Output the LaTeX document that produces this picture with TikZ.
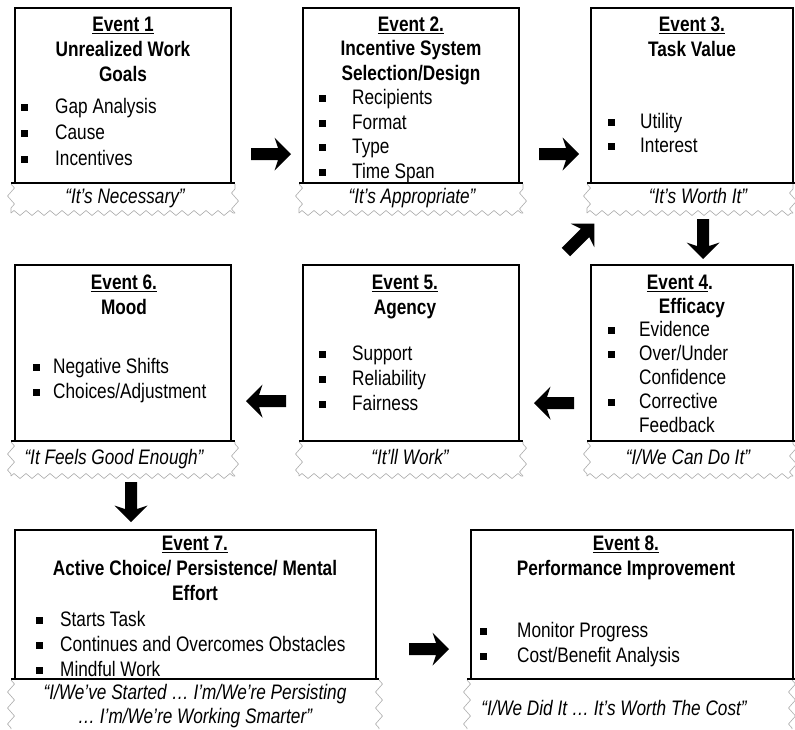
\documentclass[tikz,border=0pt]{standalone}
\usepackage{fontspec}
\setmainfont{Liberation Sans}[FakeStretch=0.82]
\usetikzlibrary{shapes.arrows,decorations.pathmorphing}
\newcommand\bsq{\rule[2.5pt]{7.2pt}{7.2pt}}
\newcommand\bit[2]{\makebox[#1][l]{\bsq}#2}
\tikzset{
  evbox/.style={draw, line width=2.2pt, inner sep=0pt, outer sep=0pt, anchor=north west},
  ebase/.style={line width=2.2pt},
  torn/.style={draw=gray!65, line width=0.6pt, decorate, decoration={zigzag, segment length=12pt, amplitude=2.5pt}},
  tornside/.style={draw=gray!65, line width=0.6pt, decorate, decoration={zigzag, segment length=16pt, amplitude=3.5pt}},
  headtxt/.style={font={\bfseries\fontsize{21}{#1}\selectfont}, align=center, inner sep=0pt, anchor=north},
  listtxt/.style={font={\fontsize{21}{#1}\selectfont}, align=left, inner sep=0pt, anchor=north west},
  quotetxt/.style={font={\itshape\fontsize{21}{#1}\selectfont}, align=center, inner sep=0pt, anchor=north},
  blockarrow/.style={single arrow, fill=black, draw=none, minimum height=40pt, inner xsep=0pt, inner ysep=5.8pt, single arrow head extend=10.5pt, single arrow head indent=3.5pt}
}
\begin{document}
\begin{tikzpicture}[x=1pt,y=-1pt]
\useasboundingbox[fill=white] (0,0) rectangle (795,729);

% ---------- boxes ----------
\node[evbox, minimum width=216pt, minimum height=175pt] (b1) at (15,8) {};
\node[evbox, minimum width=216pt, minimum height=175pt] (b2) at (303,8) {};
\node[evbox, minimum width=202pt, minimum height=175pt] (b3) at (591,8) {};
\node[evbox, minimum width=202pt, minimum height=176pt] (b4) at (591,265) {};
\node[evbox, minimum width=216pt, minimum height=176pt] (b5) at (303,265) {};
\node[evbox, minimum width=216pt, minimum height=176pt] (b6) at (15,265) {};
\node[evbox, minimum width=361pt, minimum height=149pt] (b7) at (15,530) {};
\node[evbox, minimum width=322pt, minimum height=149pt] (b8) at (471,530) {};

% ---------- torn banners ----------
\draw[tornside] (11,184) -- (11,213);
\draw[torn] (11,213) -- (235,213);
\draw[tornside] (235,213) -- (235,184);
\draw[ebase] (11,183) -- (235,183);

\draw[tornside] (299,184) -- (299,213);
\draw[torn] (299,213) -- (523,213);
\draw[tornside] (523,213) -- (523,184);
\draw[ebase] (299,183) -- (523,183);

\draw[tornside] (587,184) -- (587,213);
\draw[torn] (587,213) -- (793,213);
\draw[tornside] (793,213) -- (793,184);
\draw[ebase] (587,183) -- (795,183);

\draw[tornside] (587,442) -- (587,476);
\draw[torn] (587,476) -- (793,476);
\draw[tornside] (793,476) -- (793,442);
\draw[ebase] (587,441) -- (795,441);

\draw[tornside] (299,442) -- (299,476);
\draw[torn] (299,476) -- (523,476);
\draw[tornside] (523,476) -- (523,442);
\draw[ebase] (299,441) -- (523,441);

\draw[tornside] (11,442) -- (11,476);
\draw[torn] (11,476) -- (235,476);
\draw[tornside] (235,476) -- (235,442);
\draw[ebase] (11,441) -- (235,441);

\draw[tornside] (11,680) -- (11,729);
\draw[tornside] (379,680) -- (379,729);
\draw[ebase] (11,679) -- (379,679);

\draw[tornside] (467,680) -- (467,729);
\draw[tornside] (792,680) -- (792,729);
\draw[ebase] (467,679) -- (795,679);

% ---------- Event 1 ----------
\node[headtxt=25] (h1) at (123,13.5) {\strut\underline{Event 1}\\Unrealized Work\\Goals};
\node[listtxt=26] (l1) at (20.5,94.8) {\strut\bit{34.5pt}{Gap Analysis}\\\bit{34.5pt}{Cause}\\\bit{34.5pt}{Incentives}};
\node[quotetxt=25] (q1) at (125,185.5) {\strut “It’s Necessary”};

% ---------- Event 2 ----------
\node[headtxt=24.5] (h2) at (411,13.85) {\strut\underline{Event 2.}\\Incentive System\\Selection/Design};
\node[listtxt=24.5] (l2) at (318.5,87.35) {\strut\bit{33.5pt}{Recipients}\\\bit{33.5pt}{Format}\\\bit{33.5pt}{Type}\\\bit{33.5pt}{Time Span}};
\node[quotetxt=25] (q2) at (412,185.5) {\strut “It’s Appropriate”};

% ---------- Event 3 ----------
\node[headtxt=25] (h3) at (692,13.5) {\strut\underline{Event 3.}\\Task Value};
\node[listtxt=24] (l3) at (607.5,111.2) {\strut\bit{32.5pt}{Utility}\\\bit{32.5pt}{Interest}};
\node[quotetxt=25] (q3) at (698,185.5) {\strut “It’s Worth It”};

% ---------- Event 4 ----------
\node[headtxt=24] (h4) at (692,272.2) {\strut\underline{Event 4}.\hspace*{24pt}\\Efficacy};
\node[listtxt=24] (l4) at (607.5,319.2) {\strut\bit{31.5pt}{Evidence}\\\bit{31.5pt}{Over/Under}\\\hspace*{31.5pt}Confidence\\\bit{31.5pt}{Corrective}\\\hspace*{31.5pt}Feedback};
\node[quotetxt=25] (q4) at (688,446.5) {\strut “I/We Can Do It”};

% ---------- Event 5 ----------
\node[headtxt=25] (h5) at (405,271.5) {\strut\underline{Event 5.}\\Agency};
\node[listtxt=25] (l5) at (318.5,342.5) {\strut\bit{33.5pt}{Support}\\\bit{33.5pt}{Reliability}\\\bit{33.5pt}{Fairness}};
\node[quotetxt=25] (q5) at (410,446.5) {\strut “It’ll Work”};

% ---------- Event 6 ----------
\node[headtxt=25] (h6) at (124,271.5) {\strut\underline{Event 6.}\\Mood};
\node[listtxt=25] (l6) at (32.5,355.5) {\strut\bit{20.5pt}{Negative Shifts}\\\bit{20.5pt}{Choices/Adjustment}};
\node[quotetxt=25] (q6) at (114,446.5) {\strut “It Feels Good Enough”};

% ---------- Event 7 ----------
\node[headtxt=25] (h7) at (195,532.5) {\strut\underline{Event 7.}\\Active Choice/ Persistence/ Mental\\Effort};
\node[listtxt=25] (l7) at (35.5,608.5) {\strut\bit{24.5pt}{Starts Task}\\\bit{24.5pt}{Continues and Overcomes Obstacles}\\\bit{24.5pt}{Mindful Work}};
\node[quotetxt=24] (q7) at (195,682.2) {\strut “I/We’ve Started … I’m/We’re Persisting\\… I’m/We’re Working Smarter”};

% ---------- Event 8 ----------
\node[headtxt=25] (h8) at (626,532.5) {\strut\underline{Event 8.}\\Performance Improvement};
\node[listtxt=25] (l8) at (479.5,619.5) {\strut\bit{37.5pt}{Monitor Progress}\\\bit{37.5pt}{Cost/Benefit Analysis}};
\node[quotetxt=25] (q8) at (614,697.5) {\strut “I/We Did It … It’s Worth The Cost”};

% ---------- arrows ----------
\node[blockarrow] (a12) at (268,154) {};
\node[blockarrow] (a23) at (556,154) {};
\node[blockarrow, rotate=-90] (a34) at (703,236) {};
\node[blockarrow, rotate=45] (a43) at (578,240) {};
\node[blockarrow, rotate=180] (a45) at (557,403) {};
\node[blockarrow, rotate=180] (a56) at (269,401) {};
\node[blockarrow, rotate=-90] (a67) at (131,499) {};
\node[blockarrow] (a78) at (426,649) {};
\end{tikzpicture}
\end{document}
